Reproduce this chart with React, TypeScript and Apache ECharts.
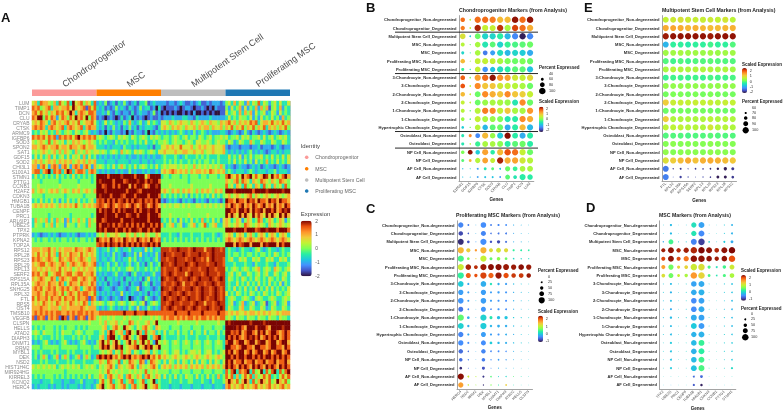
import React, { useEffect, useRef } from "react";
import * as echarts from "echarts";

const FONT = '"Liberation Sans", Arial, sans-serif';
const TURBO = ["#30123B", "#4454C4", "#4490FE", "#1FC8DE", "#29EFA2", "#7DFF56", "#C1F334", "#F1CA3A", "#FE922A", "#EA4F0D", "#7A0403"];

// Heatmap tick labels
const GENES = ["LUM", "TIMP1", "DCN", "CLU", "CRYAB", "CTSK", "ARMC9", "IGFBP6", "SOD3", "SPON2", "SAT1", "GDF15", "SOD2", "CHI3L1", "S100A1",
  "STMN1", "PTTG1", "CCNB1", "H2AFZ", "CDKN3", "HMGB1", "TUBA1B", "CENPF", "PRC1", "ARL6IP1", "UBE2S", "TPX2", "PTPRK", "KPNA2", "TOP2A",
  "RPS12", "RPL28", "RPS23", "RPL29", "RPL13", "SERF2", "RPS15A", "RPL35A", "SNHG25", "RPL32", "FTL", "RPS5", "OST4", "TMSB10", "VEGFB",
  "CLSPN", "HELLS", "ATAD2", "DIAPH3", "DNMT1", "RRM2", "MYBL1", "DEK", "NSD2", "HIST1H4C", "MIR924HG", "KIRREL3", "KCNQ2", "HERC4"];

// Heatmap cells: one character per cell, 0 = -2 ... 4 = 0 ... 8 = +2, r = +1.75; four cell groups per row
const CHONDRO_ROWS = [
  "563766546375473856746537 232412313242123133412322 221221232112123112122212 453635426354735424535335",
  "767456736656675865671757 323121242321321242331203 101112101221011210102111 425346252436264614536243",
  "675756465767568636765776 223242132122131232212412 010101001010200101010011 534536364625345235425343",
  "768847576257647586758476 121012101312302121012112 122232223322132222322222 353435443524253435342634",
  "565765367565675657456675 323534323243632342353432 554654565546545654655465 675646565767356657565756",
  "676763676567367656736766 323132423132423132333213 565465654655646566465564 657465746574657365646574",
  "343545343643454354345323 212021322120213221302132 323232343232423432322233 212321242132123212321232",
  "767675767276767578676767 454345435454354345435454 344345434534435434534454 534453545344535345345453",
  "545654746545354656545654 343433243434334343533434 454345443454355445434544 354235433643354335433543",
  "665676566756657665675665 333232333243323233323133 556565575556456565565556 212221222122312221232122",
  "454565456464654364546545 545434543645435454345435 565556556655655645565556 323232323423232123323233",
  "353534635345353545363534 232323232332322323232322 343334323433343434333433 353435243534453435343535",
  "565645656465656456564656 333233323333233323323233 343434343343434344343433 343534353425343634353435",
  "662675267626752676267526 454343534643435345434353 454555454544645454545464 232123221232312322123212",
  "677367837673687367763676 323232232322423223232232 565676565646566565765656 343233323432333233423332",
];
const MSC_ROWS = [
  "353434343534343534343434 888878888r88887888578888 344344434434443443444344 786575867857568r58675786",
  "444344444434444443444434 8r888878887r888r8878r887 444444444434444444444444 654674765365476546547654",
  "445444444454444445444444 887r8878788868788r6788r8 444544444445444444544444 745365374536537453645374",
  "645654565645654656456546 888r88888887888r78888888 565465646565464656546564 888r88888878888r88888r88",
  "444434444444344444434444 8r8887888r78887888878887 343434343424343434353434 564565456746545654565456",
  "343534353424353435343453 7r7878787r87878r787r7878 212323213232132321323213 8776877687r6877687r68776",
  "565656565465656575465656 7r7678767r76787678r67876 454545545454455454545454 768767867687678676867687",
  "444444444444444444444444 878r887878r88878788r8878 444444444444444444444444 887r68878687r868878678r8",
  "444444344444443444444434 888r88878887r88788878887 444544444454444445444444 868658686586r65868658686",
  "364546353645263546453645 887r888887888r8888878888 343534253435343634353425 653465246534763465346524",
  "354435463544254435443644 8788r8787r87878787887878 634563452345634573456335 654565476545654365456545",
  "444444444444444444444444 8r8788878878788r78878788 444444444444444444444444 888r88878887r88r88878887",
  "232122323212232321223232 454645565446546454654465 333433243334333433343234 565356535643565356535653",
  "434344343434434343443434 876768767687676876768767 343434343434343434343434 676567656765676567656765",
  "444444444444444444444444 7r7878r78787878787r87878 444444444444444444444444 888687r88688868r88868788",
];
const STEM_ROWS = [
  "666566756465666576656765 323342343233423332534233 rrr7rr8rrr7r8rrr6rr8rr7r 343323433234532343323433",
  "657565756375657665756565 323232423212324252323242 r8rr7rrr8r7rrr8rr7r8rrrr 343443434434344343543434",
  "767656765476567656765466 323323423233534232332342 rr7rr8rrr7rr8rr7r6r8rrr7 345335453354533545335453",
  "656775676567646765676567 232342342323423423134234 8rr7r8rrr8r7r8rrr7rr8rr7 333433343324333433243334",
  "665656566575656456565665 343343434334543433434343 r7rrr7r8rr7rrr7rr8rr7rrr 434543454345634543654345",
  "767567456775677567756675 232322342232134223223422 r7r8r7rrr6r8rrr7r8rrr7rr 345345335434534533543453",
  "656765576367656775676567 323133232313323231352323 8r7rr8r7rr8r7r8rrr8r7r8r 354343543435434354343543",
  "567665766576357665766576 232313221323132213431322 r7rr7r8r6rr7r8rr7rr8r7rr 343353435343534353435243",
  "676756767567675676356767 212332123321233512332123 8rr7r8rr7rr8r7r8rr7r8r7r 343534353435243535343435",
  "667657667657467657677657 323232322523232232313232 r7r8rr7r8r7rr7r8rr7r8r7r 534354343543435434354345",
  "757667576675766757667176 212321232123012321432123 r8r7rr8r7r8rr7r8r7rr8r7r 345433454324543345433454",
  "656576565765657656576365 454345434543454345134543 rr7r8rr7rrr7r8rr6rr7r8rr 345234623452345134523452",
  "666766566646656666765666 323234323232432523243232 r7r8r7rr8r7r8r7rr8r7rr8r 354335633543354235433543",
  "676767676776676767767676 677777777787778777877777 777778777787777877777877 656565565665656565565666",
  "717671676718716717671676 454454544454544454445454 676776767677676776767677 454354435443544354435443",
];
const PROLIF_ROWS = [
  "444444444444444444444544 454645564544764544564584 444444544444454444444544 8r8888888r8888r888888888",
  "343434443434344434343444 445634675486543546754365 444344434443444344434443 8888r8768887888768888r88",
  "454354443435444345434443 345368745637854863745634 353443534435344353443534 887r78678876878678876787",
  "343433343434333434343433 356378843578643578843678 343333433433343334333433 878787678r87867878786787",
  "232345323234532323453232 468574685346857468574285 454345434543454345434543 788678867886r88678867886",
  "444344444434444443444434 468785687845667856878568 444344434443444344434443 887767887768877678877687",
  "343433343433343433343433 345456354745635434563543 454345534345545345534345 878678867867886786788678",
  "342464234624642346246423 787878675787867678786757 565456545654565456545654 887878878878787887878787",
  "333434333433343433343334 465476547354765476247654 353543535435353543535435 878677867786778677867786",
  "545454545345454545345454 354567536545675365456753 565646565646565646565646 878768787687876878768787",
  "444444444444344444444444 454575454544545454745454 444344434443444344434443 747837678374583747837478",
  "343434443434343434343534 465367546536754653675465 353435343544353435343634 757363575736457573435757",
  "333233343332332233423332 357457345734673457345834 333433343344333433243334 686574686374686574586574",
  "232333232332323332323323 568456745674367456845674 333233323332333233323332 675656756567565675656756",
];

const CELL_TYPES = ["Chondroprogenitor_Non-degenerated", "Chondroprogenitor_Degenerated", "Multipotent Stem Cell_Degenerated", "MSC_Non-degenerated", "MSC_Degenerated",
  "Proliferating MSC_Non-degenerated", "Proliferating MSC_Degenerated", "3:Chondrocyte_Non-degenerated", "3:Chondrocyte_Degenerated", "2:Chondrocyte_Non-degenerated",
  "2:Chondrocyte_Degenerated", "1:Chondrocyte_Non-degenerated", "1:Chondrocyte_Degenerated", "Hypertrophic Chondrocyte_Degenerated", "Osteoblast_Non-degenerated",
  "Osteoblast_Degenerated", "NP Cell_Non-degenerated", "NP Cell_Degenerated", "AF Cell_Non-degenerated", "AF Cell_Degenerated"];

// Panel B
const B_GENES = ["S100A1", "GDF15", "IGFBP6", "CTSK", "SOD3", "CRYAB", "CLU", "TIMP1", "DCN", "LUM"];
const B_VALS = [
  [1.7, .4, 1.7, 1.7, 1.6, 1.1, 1.1, 2.3, 1.7, 2.3], [1.6, .5, 2.2, .5, .5, 2.1, .3, 2.0, 1.7, 1.2],
  [.7, -.9, -.1, -.8, -.8, -.5, -1.1, -1.5, -2.3, -1.5], [.4, -.1, .3, -.6, -.2, -.8, -.4, -.3, -.2, -.1],
  [-.8, -.5, .3, -1.6, -1.3, -.7, -1.1, -.8, -.9, -1.2], [1.1, .3, .5, .5, .5, .3, 0, -.1, 0, -.1],
  [-.4, -.6, .5, -1.4, -1.0, -.7, -.5, -.2, -.2, -1.0], [1.8, 0, 1.3, 1.7, 2.3, 1.4, 1.3, .6, .5, .8],
  [1.9, .4, 1.5, 1.0, 1.0, .6, .5, .4, .3, -.1], [1.1, .6, -.1, 1.5, 1.2, 1.0, 1.5, 1.0, .9, .5],
  [.5, .5, -.1, .2, .3, .3, .2, -.6, 1.5, -.1], [.4, -.2, .4, 1.6, 1.5, .5, 1.0, .3, .3, 1.4],
  [.2, -.3, .5, .3, .2, 0, -.6, -.5, 1.5, 1.2], [-.9, -.1, .4, -1.1, -.2, -.1, -1.2, -.5, 1.1, -1.1],
  [-.6, 1.5, -1.5, 1.1, .2, -.9, 2.35, -.5, -1.2, -.5], [-.6, .4, -.4, .3, .3, .1, -.5, -.2, -.1, -.5],
  [0, 2.3, -.9, 1.3, -.5, 1.1, 1.9, 1.7, .5, -.1], [-.2, 1.1, .4, 1.3, .5, 2.2, 1.2, 1.3, .6, .4],
  [-1.1, -.8, -1.3, -.6, -.2, -.9, -.1, -.4, .3, .3], [-1.0, -1.0, -1.3, -1.0, -1.0, -1.4, -.2, -.6, -.5, -.5],
];
const B_PCTS = [
  [78, 48, 97, 97, 97, 97, 98, 100, 98, 100], [76, 47, 98, 95, 94, 98, 96, 97, 98, 98],
  [90, 48, 92, 96, 96, 96, 96, 97, 98, 98], [72, 42, 90, 94, 92, 96, 96, 96, 97, 97],
  [62, 41, 90, 80, 84, 96, 94, 94, 96, 96], [78, 41, 92, 94, 92, 96, 96, 96, 97, 97],
  [62, 43, 90, 88, 86, 96, 94, 95, 96, 96], [80, 46, 96, 98, 98, 98, 97, 96, 97, 97],
  [80, 46, 95, 96, 95, 96, 96, 96, 97, 97], [78, 47, 93, 96, 96, 96, 96, 96, 97, 97],
  [72, 47, 92, 94, 94, 96, 96, 94, 97, 96], [72, 44, 94, 97, 96, 96, 96, 96, 97, 97],
  [68, 46, 94, 94, 93, 95, 95, 94, 97, 97], [58, 43, 90, 88, 92, 94, 93, 94, 97, 95],
  [62, 62, 80, 96, 88, 94, 97, 92, 94, 94], [62, 45, 86, 92, 90, 94, 94, 94, 96, 94],
  [68, 80, 78, 94, 78, 95, 98, 97, 96, 94], [62, 60, 86, 92, 82, 97, 96, 96, 96, 95],
  [42, 40, 50, 60, 60, 50, 85, 80, 90, 92], [41, 40, 48, 52, 52, 48, 82, 70, 95, 88],
];

// Panel C
const C_GENES = ["HERC4", "NSD2", "RRM2", "DEK", "MYBL1", "DNMT1", "DIAPH3", "ATAD2", "HELLS", "CLSPN"];
const C_VALS = [
  [-.45, -.5, -.2, -.4, -.5, -.45, -.4, -.2, -.15, -.1], [-.8, -.7, -.2, -.45, -.55, -.55, -.5, -.25, -.15, -.1],
  [-.95, -.75, -.3, -.4, -.75, -.8, -.6, -.2, -.15, -.1], [1.5, 1.35, 1.7, 1.55, 1.25, 1.15, 1.25, .35, .3, .3],
  [.45, .7, 1.3, 1.05, .55, .75, .6, .1, .1, .1], [1.1, 2.3, 2.25, 2.35, 2.4, 2.4, 2.35, 2.35, 2.4, 2.35],
  [.35, 2.0, 2.1, 2.15, 2.0, 2.35, 2.1, 2.2, 2.2, 2.35], [0, -.25, -.1, -.2, .2, -.2, -.3, -.1, -.05, 0],
  [-.3, -.3, -.1, -.3, -.3, -.3, -.35, -.2, -.1, -.05], [-.35, -.3, -.1, -.3, -.3, -.35, -.4, -.2, -.1, 0],
  [-.55, -.4, -.1, -.35, -.45, -.35, -.4, -.2, -.1, 0], [.55, -.2, -.1, .05, .25, -.1, -.05, 0, 0, .05],
  [.05, -.2, -.1, 0, -.15, -.2, -.2, -.1, 0, 0], [-.45, -.25, -.1, -.3, -.3, -.35, -.2, -.2, -.05, 0],
  [-.4, -.4, -.1, -.4, 0, -.15, -.2, -.1, 0, 0], [-.6, -.6, -.2, -.45, -.45, -.4, -.4, -.2, -.1, -.05],
  [-.6, -.5, -.2, -.5, -.4, -.3, -.3, -.2, -.1, -.05], [-.95, -.6, -.2, -.75, -.4, -.2, -.2, -.1, 0, 0],
  [2.4, 1.1, 1.0, -.9, .5, .05, .1, .5, .2, .1], [1.65, 1.1, .9, -.95, .7, .3, 1.35, .2, .1, .1],
];
const C_PCTS = [
  [85, 25, 6, 90, 25, 30, 25, 12, 8, 5], [70, 20, 6, 80, 20, 25, 25, 10, 7, 5], [95, 40, 8, 100, 35, 50, 30, 12, 10, 5],
  [100, 65, 35, 100, 60, 75, 65, 30, 25, 20], [100, 40, 12, 100, 45, 55, 40, 20, 15, 12], [100, 90, 60, 100, 95, 100, 95, 85, 90, 85],
  [100, 80, 50, 100, 85, 100, 85, 70, 75, 70], [90, 30, 6, 90, 35, 35, 30, 15, 10, 6], [85, 30, 6, 85, 30, 35, 30, 14, 9, 6],
  [90, 28, 6, 90, 30, 30, 28, 14, 9, 6], [80, 22, 5, 80, 20, 30, 25, 12, 7, 5], [100, 40, 6, 100, 45, 50, 50, 15, 12, 8],
  [95, 35, 6, 100, 35, 40, 35, 14, 10, 7], [85, 30, 6, 80, 30, 30, 25, 12, 8, 5], [85, 28, 6, 80, 40, 35, 30, 15, 9, 6],
  [70, 18, 5, 70, 22, 25, 18, 10, 6, 4], [55, 15, 4, 55, 15, 20, 15, 8, 5, 3], [40, 8, 3, 45, 8, 12, 8, 5, 3, 2],
  [100, 25, 10, 30, 20, 10, 15, 8, 6, 4], [85, 18, 8, 15, 15, 10, 20, 6, 4, 3],
];

// Panel D
const D_GENES = ["TPX2", "UBE2S", "PRC1", "CENPF", "TUBA1B", "HMGB1", "CDKN3", "CCNB1", "PTTG1", "STMN1"];
const D_VALS = [
  [-.1, -.2, -.1, -.1, .1, -.35, -.1, -.05, -.1, -.25], [-.1, -.2, -.1, -.1, .15, -.5, -.1, -.05, -.1, -.25],
  [-.3, .35, -.1, -.1, -.55, -.95, 0, -.05, -.1, -.3], [2.3, 2.35, 2.25, 2.3, 2.25, 2.4, 2.35, 2.25, 2.35, 2.4],
  [2.1, 2.35, 2.1, 1.85, 2.35, 2.35, 2.35, 2.3, 2.35, 2.05], [1.6, .55, 1.25, 1.25, 1.05, 1.15, .4, .1, .35, 1.05],
  [1.15, .55, 1.0, .85, 1.65, 1.25, .4, .15, .4, .85], [-.1, -.2, -.05, -.05, -.35, -.3, -.05, 0, -.1, -.15],
  [-.1, -.25, -.05, -.05, -.3, -.25, 0, 0, -.1, -.15], [-.15, -.2, -.1, -.05, -.5, -.35, -.05, 0, -.1, -.2],
  [-.2, -.3, -.1, -.1, -.5, -.3, -.05, 0, -.15, -.25], [-.15, -.2, -.05, -.05, -.3, -.35, -.05, 0, -.1, -.2],
  [-.15, -.2, -.05, -.05, -.1, -.4, -.05, 0, -.1, -.2], [-.1, -.2, -.05, 0, -.25, -.25, 0, 0, -.05, -.15],
  [-.05, -.1, 0, 0, -.2, .3, .1, .05, -.05, -.1], [-.05, -.15, 0, 0, -.25, .25, .05, .05, -.05, -.1],
  [-.05, -.15, 0, 0, -.2, .35, .05, .05, -.05, -.1], [0, -.1, 0, 0, -.15, .4, .1, .1, 0, .05],
  [0, 0, .05, 0, -.7, -.7, .05, .05, .05, .05], [-.1, -.3, -.05, -.05, -.8, -1.1, -.05, 0, -.05, -.05],
];
const D_PCTS = [
  [5, 30, 3, 5, 80, 90, 5, 3, 10, 25], [5, 30, 3, 5, 80, 90, 5, 3, 10, 25], [15, 75, 10, 10, 90, 100, 20, 6, 25, 40],
  [60, 90, 65, 80, 100, 100, 90, 70, 90, 100], [60, 90, 60, 80, 100, 100, 85, 65, 85, 100], [60, 80, 45, 55, 100, 100, 45, 25, 50, 75],
  [55, 75, 40, 50, 100, 100, 40, 20, 45, 70], [8, 28, 6, 8, 85, 90, 6, 3, 10, 20], [8, 30, 6, 8, 85, 90, 6, 3, 10, 20],
  [8, 28, 5, 7, 85, 90, 5, 3, 8, 20], [8, 28, 5, 8, 85, 90, 6, 3, 10, 20], [10, 32, 8, 8, 90, 90, 7, 4, 12, 20],
  [8, 28, 5, 7, 90, 90, 6, 3, 10, 20], [8, 25, 5, 6, 82, 90, 6, 3, 10, 18], [6, 30, 4, 6, 85, 90, 7, 3, 10, 18],
  [6, 25, 4, 6, 85, 90, 6, 3, 10, 15], [6, 25, 4, 6, 85, 90, 6, 3, 8, 18], [6, 25, 4, 5, 88, 92, 6, 3, 8, 30],
  [2, 3, 2, 2, 25, 40, 2, 1, 2, 3], [2, 3, 2, 2, 30, 35, 2, 1, 2, 2],
];

// Panel E
const E_GENES = ["FTL", "RPL32", "RPL35A", "RPS15A", "SERF2", "RPL13", "RPL29", "RPS23", "RPL28", "RPS12"];
const E_VALS = [
  [.65, .75, .85, .75, .7, .7, .75, .65, .8, .6], [1.4, 1.45, 1.4, 1.3, 1.35, 1.3, 1.25, 1.25, 1.3, 1.35],
  [2.45, 2.5, 2.5, 2.5, 2.5, 2.5, 2.45, 2.5, 2.5, 2.5], [-1.0, -.3, -.3, -.4, -.3, -.3, -.2, -.3, -.3, -.1],
  [.4, .4, .45, .4, .4, .35, .4, .35, .4, .4], [-.1, -.2, -.1, -.2, -.1, -.1, -.05, -.1, -.1, -.1],
  [.45, .55, .5, .5, .5, .5, .5, .45, .5, .4], [-.25, -.2, -.2, -.25, -.2, -.25, -.15, -.2, -.2, -.15],
  [.3, .3, .3, .3, .3, .3, .3, .3, .3, .3], [.1, .15, .15, .1, .15, .1, .15, .1, .1, .1],
  [1.1, .7, .7, .65, .7, .65, .7, .6, .7, .65], [.05, .1, .1, .1, .1, .1, .1, .05, .05, .1],
  [1.1, .5, .5, .5, .5, .5, .6, .5, .55, .5], [.6, .6, .65, .55, .55, .5, .8, .55, .55, .5],
  [-.1, -.1, -.1, -.15, -.1, -.1, -.05, -.1, -.1, -.1], [.2, .25, .2, .2, .2, .2, .25, .2, .2, .2],
  [.3, .2, .25, .25, .25, .2, .3, .25, .25, .2], [.9, 1.1, 1.25, 1.4, 1.2, 1.35, 1.4, 1.35, 1.25, 1.15],
  [-1.5, -2, -2, -2, -2, -2, -2.1, -2.2, -2.2, -2], [-1.45, -1.7, -1.95, -1.9, -1.9, -1.9, -2, -2.2, -2.2, -2],
];
const E_PCTS = [
  [98, 98, 99, 99, 98, 99, 98, 99, 99, 98], [99, 98, 99, 99, 99, 98, 99, 99, 99, 99], [100, 100, 100, 100, 100, 100, 100, 100, 100, 100],
  [98, 97, 97, 98, 97, 97, 97, 98, 97, 97], [98, 97, 97, 98, 97, 97, 97, 98, 97, 97], [98, 98, 98, 98, 98, 98, 98, 98, 98, 98],
  [98, 98, 98, 98, 98, 98, 98, 98, 98, 98], [98, 98, 98, 98, 98, 98, 98, 98, 98, 98], [98, 97, 97, 98, 97, 97, 97, 98, 97, 97],
  [98, 97, 97, 98, 97, 97, 97, 98, 97, 97], [99, 98, 98, 98, 98, 98, 98, 98, 98, 98], [98, 97, 97, 98, 97, 97, 97, 98, 97, 97],
  [99, 98, 98, 98, 98, 98, 98, 98, 98, 98], [98, 98, 98, 98, 98, 98, 98, 98, 98, 98], [98, 97, 97, 98, 97, 97, 97, 98, 97, 97],
  [98, 98, 98, 98, 98, 98, 98, 98, 98, 98], [98, 98, 98, 98, 98, 98, 98, 98, 98, 98], [100, 99, 99, 100, 99, 100, 100, 100, 100, 100],
  [98, 64, 68, 62, 66, 65, 66, 72, 78, 76], [98, 60, 72, 63, 60, 63, 65, 75, 76, 74],
];

const IDENTITY = ["Chondroprogenitor", "MSC", "Multipotent Stem Cell", "Proliferating MSC"];
const IDENTITY_COLORS = ["#FB9A99", "#FF7F00", "#BEBEBE", "#1F78B4"];
const EXPRESSION_TICKS = [2, 1, 0, -1, -2];

const W = 784, H = 411;
const CELLS_PER_GROUP = 24;

const HEAT = { left: 32, top: 101, width: 258, height: 288 };

type Panel = {
  letter: string; letterX: number; letterY: number; title: string; genes: string[]; vals: number[][]; pcts: number[][];
  left: number; width: number; top: number; height: number; titleX: number; titleY: number; namePad: number;
  min: number; max: number; pMin: number; dMin: number; dMax: number;
  bar: [number, number, number, number]; tickX: number; ticks: [number, number][];
  pctTitle: [number, number]; valTitle: [number, number]; pctDots: [number, number][]; dotX: number; pctLabelX: number;
};

const PANELS: Panel[] = [
  { letter: "B", letterX: 366, letterY: 7, title: "Chondroprogenitor Markers (from Analysis)", genes: B_GENES, vals: B_VALS, pcts: B_PCTS,
    left: 459, width: 74.8, top: 15.6, height: 165.6, titleX: 459, titleY: 10, namePad: 16, min: -2.4, max: 2.4, pMin: 40, dMin: 1, dMax: 6.6,
    bar: [539, 106.7, 4.5, 25.3], tickX: 546, ticks: [[2, 108.7], [1, 114], [0, 119.3], [-1, 124.7], [-2, 130]],
    pctTitle: [539, 67], valTitle: [539, 101.7], pctDots: [[40, 74], [60, 79.3], [80, 84.7], [100, 91]], dotX: 542.3, pctLabelX: 549 },
  { letter: "C", letterX: 366, letterY: 208, title: "Proliferating MSC Markers (from Analysis)", genes: C_GENES, vals: C_VALS, pcts: C_PCTS,
    left: 457, width: 75.5, top: 220.8, height: 168.4, titleX: 456, titleY: 214.7, namePad: 16, min: -1.1, max: 2.45, pMin: 0, dMin: .4, dMax: 6.2,
    bar: [538, 315.7, 5, 26.3], tickX: 545.7, ticks: [[2, 319], [1, 326.7], [0, 334], [-1, 341.3]],
    pctTitle: [538, 270.7], valTitle: [538, 311], pctDots: [[0, 277.3], [25, 282.3], [50, 288], [75, 293.7], [100, 300.3]], dotX: 541.7, pctLabelX: 548 },
  { letter: "D", letterX: 586, letterY: 207, title: "MSC Markers (from Analysis)", genes: D_GENES, vals: D_VALS, pcts: D_PCTS,
    left: 659.5, width: 76.3, top: 220.8, height: 168.4, titleX: 659, titleY: 214.5, namePad: 16, min: -1.2, max: 2.42, pMin: 0, dMin: .4, dMax: 6.5,
    bar: [741, 275, 5, 25.7], tickX: 749, ticks: [[2, 278], [1, 285.3], [0, 292.3], [-1, 299.3]],
    pctTitle: [741, 308], valTitle: [741, 270.7], pctDots: [[0, 314.3], [25, 319.3], [50, 325.3], [75, 330.7], [100, 337.3]], dotX: 745.3, pctLabelX: 751 },
  { letter: "E", letterX: 584, letterY: 7, title: "Multipotent Stem Cell Markers (from Analysis)", genes: E_GENES, vals: E_VALS, pcts: E_PCTS,
    left: 662, width: 74.5, top: 15.6, height: 165.6, titleX: 662, titleY: 10, namePad: 16, min: -2.3, max: 2.6, pMin: 60, dMin: .8, dMax: 6.3,
    bar: [742, 68, 5, 25], tickX: 749.7, ticks: [[2, 71.3], [1, 76.3], [0, 81.7], [-1, 87], [-2, 92.3]],
    pctTitle: [742, 101], valTitle: [742, 64], pctDots: [[60, 108], [70, 113], [80, 118], [90, 123.7], [100, 130.3]], dotX: 745.7, pctLabelX: 752 },
];

const SEPARATOR_ROWS = [2, 7, 14, 16];

function txt(x: number, y: number, text: string, fontSize: number, fill: string, extra: any = {}) {
  const { fontWeight, textAlign, rotation } = extra;
  return {
    type: "text", x, y, silent: true, rotation: rotation || 0,
    style: { text, fill, fontSize, fontFamily: FONT, fontWeight: fontWeight || "normal", textAlign: textAlign || "left", textVerticalAlign: "middle" },
  };
}

function dotSize(p: Panel, pct: number) {
  return p.dMin + ((pct - p.pMin) / (100 - p.pMin)) * (p.dMax - p.dMin);
}

function buildOption() {
  const grid: any[] = [{ ...HEAT, outerBoundsMode: "none" }];
  const xAxis: any[] = [];
  const yAxis: any[] = [];
  const series: any[] = [];
  const visualMap: any[] = [];
  const graphic: any[] = [];

  // Heatmap
  const allRows = [...CHONDRO_ROWS, ...MSC_ROWS, ...STEM_ROWS, ...PROLIF_ROWS];
  const heat: number[][] = [];
  allRows.forEach((row, i) => {
    row.split(" ").forEach((chunk, g) => {
      for (let j = 0; j < CELLS_PER_GROUP; j++) {
        const c = chunk[j] ?? chunk[chunk.length - 1];
        heat.push([g * CELLS_PER_GROUP + j, i, c === "r" ? 1.75 : (Number(c) - 4) / 2]);
      }
    });
  });
  xAxis.push({ type: "category", gridIndex: 0, data: Array.from({ length: CELLS_PER_GROUP * 4 }, (_, k) => String(k)), show: false });
  yAxis.push({
    type: "category", gridIndex: 0, data: GENES, inverse: true, axisLine: { show: false }, axisTick: { show: false },
    axisLabel: { interval: 0, fontSize: 5, color: "#8a8a8a", fontFamily: FONT, margin: 2.5 },
  });
  series.push({ type: "heatmap", xAxisIndex: 0, yAxisIndex: 0, data: heat, progressive: 0, silent: true, itemStyle: { borderWidth: 0 } });
  visualMap.push({
    seriesIndex: 0, min: -2, max: 2, inRange: { color: TURBO }, left: 300.7, top: 220.7, itemWidth: 11, itemHeight: 55.5, padding: 0,
    text: ["", ""], calculable: false, hoverLink: false, orient: "vertical", align: "left", showLabel: false,
  });

  // Annotation bar
  const gw = HEAT.width / 4;
  IDENTITY.forEach((name, i) => {
    graphic.push({ type: "rect", silent: true, shape: { x: HEAT.left + i * gw, y: 89.5, width: gw, height: 6.5 }, style: { fill: IDENTITY_COLORS[i] } });
    graphic.push(txt(HEAT.left + (i + 0.5) * gw - 1, 85, name, 9, "#4d4d4d", { rotation: (35 * Math.PI) / 180 }));
    // legend
    const ly = [157.3, 168.7, 180, 191][i];
    graphic.push({ type: "circle", silent: true, shape: { cx: 306.7, cy: ly, r: 1.8 }, style: { fill: IDENTITY_COLORS[i] } });
    graphic.push(txt(315.3, ly, name, 5.2, "#666"));
  });
  [1, 2, 3].forEach((i) => {
    graphic.push({ type: "line", silent: true, shape: { x1: HEAT.left + i * gw, y1: HEAT.top, x2: HEAT.left + i * gw, y2: HEAT.top + HEAT.height }, style: { stroke: "#6a6a6a", lineWidth: 0.5, opacity: 0.7 } });
  });
  graphic.push({ type: "line", silent: true, shape: { x1: 290.3, y1: 101, x2: 290.3, y2: 180 }, style: { stroke: "#bbb", lineWidth: 1 } });
  graphic.push(txt(1, 17.5, "A", 13, "#111", { fontWeight: "bold" }));
  graphic.push(txt(300.7, 146, "Identity", 6, "#444"));
  graphic.push(txt(300.7, 214.3, "Expression", 6, "#444"));
  EXPRESSION_TICKS.forEach((t, i) => graphic.push(txt(315.3, 221 + i * 13.9, String(t), 4.8, "#555")));

  // Dot plots
  PANELS.forEach((p, k) => {
    const idx = k + 1;
    grid.push({ left: p.left, top: p.top, width: p.width, height: p.height, outerBoundsMode: "none" });
    xAxis.push({
      type: "category", gridIndex: idx, data: p.genes, name: "Genes", nameLocation: "middle", nameGap: p.namePad,
      nameTextStyle: { fontSize: 4.6, fontWeight: "bold", color: "#222", fontFamily: FONT },
      axisLine: { lineStyle: { color: "#9a9a9a", width: 0.9 } }, axisTick: { length: 1.2, lineStyle: { color: "#9a9a9a", width: 0.4 }, alignWithLabel: true },
      axisLabel: { interval: 0, rotate: 45, fontSize: 3.7, color: "#444", fontFamily: FONT, margin: 2 },
    });
    yAxis.push({
      type: "category", gridIndex: idx, data: CELL_TYPES, inverse: true,
      axisLine: { lineStyle: { color: "#9a9a9a", width: 0.9 } }, axisTick: { length: 1.2, lineStyle: { color: "#9a9a9a", width: 0.4 }, alignWithLabel: true },
      axisLabel: { interval: 0, fontSize: 4.05, fontWeight: "bold", color: "#2a2a2a", fontFamily: FONT, margin: 2.4 },
    });
    const data: number[][] = [];
    p.vals.forEach((row, r) => row.forEach((v, c) => data.push([c, r, v, p.pcts[r][c]])));
    series.push({
      type: "scatter", xAxisIndex: idx, yAxisIndex: idx, data, silent: true,
      symbolSize: (d: number[]) => dotSize(p, d[3]), itemStyle: { opacity: 1 },
    });
    visualMap.push({
      seriesIndex: idx, dimension: 2, min: p.min, max: p.max, inRange: { color: TURBO }, left: p.bar[0], top: p.bar[1],
      itemWidth: p.bar[2], itemHeight: p.bar[3], padding: 0, text: ["", ""], calculable: false, hoverLink: false, orient: "vertical", align: "left", showLabel: false,
    });
    graphic.push(txt(p.letterX, p.letterY, p.letter, 13, "#111", { fontWeight: "bold" }));
    graphic.push(txt(p.titleX, p.titleY, p.title, 5.2, "#222", { fontWeight: "bold" }));
    graphic.push(txt(p.pctTitle[0], p.pctTitle[1], "Percent Expressed", 4.5, "#222", { fontWeight: "bold" }));
    graphic.push(txt(p.valTitle[0], p.valTitle[1], "Scaled Expression", 4.5, "#222", { fontWeight: "bold" }));
    p.ticks.forEach(([t, y]) => graphic.push(txt(p.tickX, y, String(t), 3.8, "#333")));
    p.pctDots.forEach(([pct, y]) => {
      graphic.push({ type: "circle", silent: true, shape: { cx: p.dotX, cy: y, r: dotSize(p, pct) / 2 }, style: { fill: "#000" } });
      graphic.push(txt(p.pctLabelX, y, String(pct), 3.8, "#333"));
    });
  });

  // Panel B separators
  const pb = PANELS[0];
  SEPARATOR_ROWS.forEach((r) => {
    const y = pb.top + (r * pb.height) / CELL_TYPES.length;
    graphic.push({ type: "line", silent: true, z: 10, shape: { x1: 395, y1: y, x2: 538, y2: y }, style: { stroke: "#111", lineWidth: 0.9 } });
  });

  return { animation: false, backgroundColor: "#fff", grid, xAxis, yAxis, series, visualMap, graphic: { elements: graphic } };
}

export default function App() {
  const ref = useRef<HTMLDivElement>(null);
  useEffect(() => {
    const chart = echarts.init(ref.current!, undefined, { renderer: "svg" });
    chart.setOption(buildOption() as any);
    return () => chart.dispose();
  }, []);
  return <div ref={ref} style={{ position: "absolute", left: 0, top: 0, width: W, height: H, filter: "blur(0.35px)" }} />;
}
